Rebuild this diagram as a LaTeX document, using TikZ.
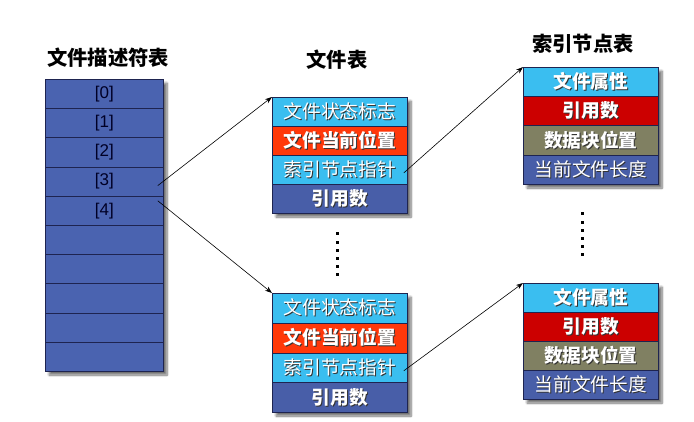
\documentclass[tikz,border=0pt]{standalone}
\usepackage{fontspec}
\setmainfont{Noto Sans CJK SC}
\newfontfamily\latinsans{Liberation Sans}
\usetikzlibrary{shadows.blur,arrows.meta}

\definecolor{fdblue}{RGB}{74,99,176}
\definecolor{skyblue}{RGB}{58,190,240}
\definecolor{flame}{RGB}{255,56,10}
\definecolor{slate}{RGB}{72,94,168}
\definecolor{crimson}{RGB}{204,0,0}
\definecolor{olive}{RGB}{128,128,98}
\definecolor{edge}{RGB}{30,36,80}

% white text with a dark offset copy underneath
\newcommand\shtext[1]{\leavevmode\rlap{\kern1pt\raisebox{-1pt}{\color{black!80}#1}}#1}

\tikzset{
  title/.style={font=\fontsize{20.3}{22}\selectfont\bfseries, text=black},
  fdcell/.style={draw=edge, line width=0.8pt, fill=fdblue, anchor=north west,
    minimum width=118pt, minimum height=29.2pt, inner sep=0pt,
    font=\latinsans\fontsize{17}{19}\selectfont, text=black!85!blue},
  tcell/.style={draw=edge, line width=0.8pt, fill=#1, anchor=north west,
    minimum width=135pt, inner sep=0pt, text=white,
    font=\fontsize{18.7}{20}\selectfont},
  bcell/.style={tcell=#1, font=\fontsize{18.7}{20}\selectfont\bfseries},
  tshadow/.style={fill=white, blur shadow={shadow xshift=4pt, shadow yshift=-4pt,
    shadow blur steps=8, shadow opacity=55}},
  link/.style={-{Stealth[length=7pt,width=5pt]}, line width=0.6pt, black},
  dotmark/.style={fill=black, inner sep=0pt, minimum size=3pt},
}

\begin{document}
\begin{tikzpicture}[x=1pt,y=-1pt]
\useasboundingbox (0,0) rectangle (694,422);

% ---------- file descriptor table ----------
\node[title] (fdtitle) at (108,58) {文件描述符表};
\path[tshadow] (45,79) rectangle (163,371);
\foreach \i/\t in {0/[0],1/[1],2/[2],3/[3],4/[4],5/,6/,7/,8/,9/}
  \node[fdcell] (fd\i) at (45,{79+29.2*\i}) {\t};

% ---------- open file tables ----------
\node[title] (fttitle) at (337,60) {文件表};

\path[tshadow] (272,97) rectangle (407,213);
\node[tcell=skyblue, minimum height=29pt] (fa1) at (272,97)  {\shtext{文件状态标志}};
\node[bcell=flame,   minimum height=29pt] (fa2) at (272,126) {\shtext{文件当前位置}};
\node[tcell=skyblue, minimum height=29pt] (fa3) at (272,155) {\shtext{索引节点指针}};
\node[bcell=slate,   minimum height=29pt] (fa4) at (272,184) {\shtext{引用数}};

\path[tshadow] (272,293) rectangle (407,412);
\node[tcell=skyblue, minimum height=29.75pt] (fb1) at (272,293)    {\shtext{文件状态标志}};
\node[bcell=flame,   minimum height=29.75pt] (fb2) at (272,322.75) {\shtext{文件当前位置}};
\node[tcell=skyblue, minimum height=29.75pt] (fb3) at (272,352.5)  {\shtext{索引节点指针}};
\node[bcell=slate,   minimum height=29.75pt] (fb4) at (272,382.25) {\shtext{引用数}};

% ---------- inode tables ----------
\node[title] (ittitle) at (583,44) {索引节点表};

\path[tshadow] (523,67) rectangle (658,184);
\node[bcell=skyblue, minimum height=29.25pt] (ia1) at (523,67)    {\shtext{文件属性}};
\node[bcell=crimson, minimum height=29.25pt] (ia2) at (523,96.25) {\shtext{引用数}};
\node[bcell=olive,   minimum height=29.25pt] (ia3) at (523,125.5) {\shtext{数据块位置}};
\node[tcell=slate,   minimum height=29.25pt] (ia4) at (523,154.75){\shtext{当前文件长度}};

\path[tshadow] (523,283) rectangle (658,399);
\node[bcell=skyblue, minimum height=29pt] (ib1) at (523,283) {\shtext{文件属性}};
\node[bcell=crimson, minimum height=29pt] (ib2) at (523,312) {\shtext{引用数}};
\node[bcell=olive,   minimum height=29pt] (ib3) at (523,341) {\shtext{数据块位置}};
\node[tcell=slate,   minimum height=29pt] (ib4) at (523,370) {\shtext{当前文件长度}};

% ---------- ellipsis dots ----------
\foreach \k in {0,...,5} {
  \node[dotmark] (da\k) at (337,{234+8.2*\k}) {};
  \node[dotmark] (db\k) at (582,{214+8.2*\k}) {};
}

% ---------- pointers ----------
\coordinate (p3) at ([xshift=-6pt,yshift=-4pt]fd3.east);
\coordinate (p4) at ([xshift=-6pt,yshift=-5pt]fd4.north east);
\coordinate (qa) at ([xshift=-4pt,yshift=-3pt]fa3.east);
\coordinate (qb) at ([xshift=-4pt,yshift=-3pt]fb3.east);
\draw[link] (p3) -- (fa1.north west);
\draw[link] (p4) -- (fb1.north west);
\draw[link] (qa) -- (ia1.north west);
\draw[link] (qb) -- (ib1.north west);
\end{tikzpicture}
\end{document}
